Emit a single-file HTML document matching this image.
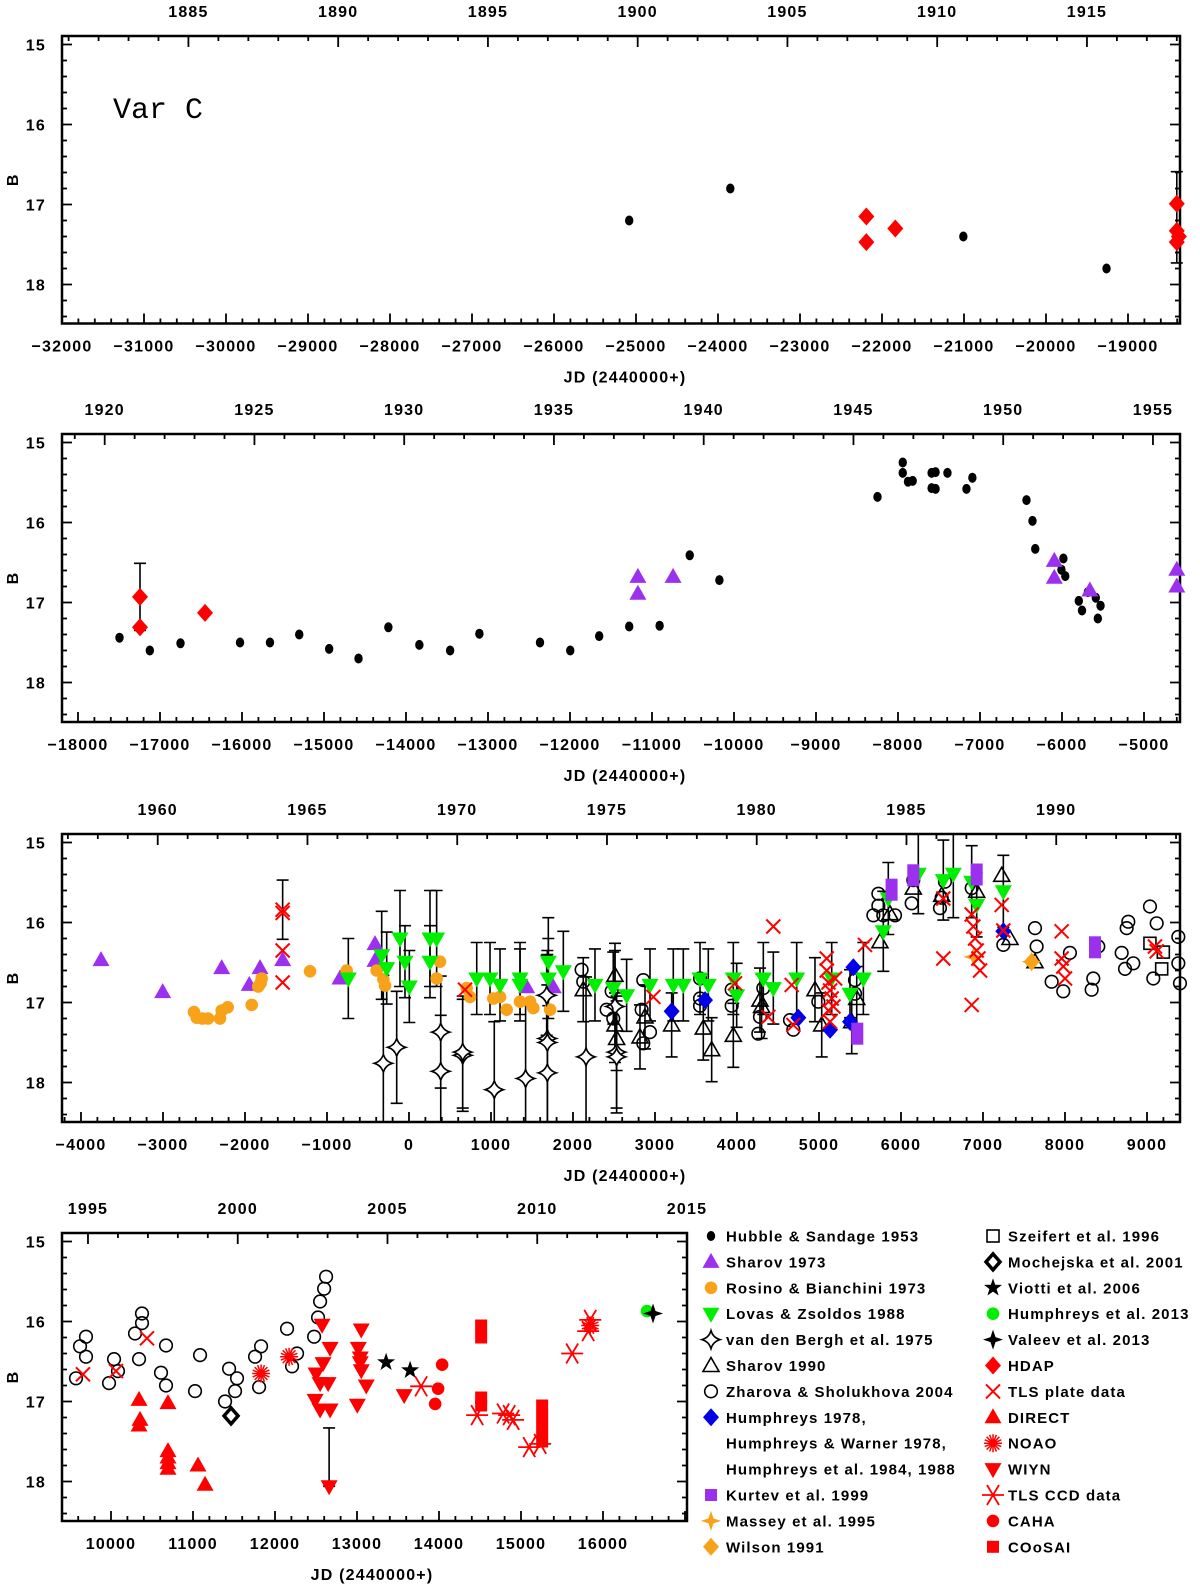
<!DOCTYPE html>
<html><head><meta charset="utf-8"><title>Var C light curve</title>
<style>
html,body{margin:0;padding:0;background:#fff;}
svg{display:block;}
text{font-family:"Liberation Sans",sans-serif;font-weight:bold;fill:#000;}
.tk{font-size:16px;letter-spacing:1.2px;}
.lg{font-size:15px;letter-spacing:1.1px;}
</style></head>
<body>
<svg id="chart" xmlns="http://www.w3.org/2000/svg" width="1200" height="1588" viewBox="0 0 1200 1588">
<rect width="1200" height="1588" fill="#fff"/>
<text x="113" y="118" style="font-family:'Liberation Mono',monospace;font-weight:normal;font-size:30px;">Var C</text>
</svg>
<script>
// ---------- panel 1 data ----------
const p1_hubble = [[-25083,17.2],[-23850,16.8],[-21008,17.4],[-19262,17.8]];
const p1_hdap = [[-22191,17.15],[-22191,17.47],[-21838,17.3],[-18405,16.99],[-18405,17.33],[-18405,17.47],[-18380,17.4]];
const p1_hdapErr = [[-18405,17.16,0.57]];
// ---------- panel 2 data ----------
const p2_hubble = [[-17494,17.44],[-17124,17.6],[-16750,17.51],[-16024,17.5],[-15659,17.5],[-15302,17.4],[-14937,17.58],[-14579,17.7],[-14215,17.31],[-13837,17.53],[-13462,17.6],[-13105,17.39],[-12366,17.5],[-11997,17.6],[-11644,17.42],[-11278,17.3],[-10907,17.29],[-10540,16.41],[-10178,16.72],[-8250,15.68],[-7942,15.25],[-7942,15.38],[-7878,15.49],[-7821,15.48],[-7590,15.38],[-7542,15.37],[-7590,15.57],[-7542,15.58],[-7397,15.38],[-7165,15.58],[-7093,15.44],[-6433,15.72],[-6360,15.98],[-6326,16.33],[-5983,16.45],[-6007,16.59],[-5960,16.67],[-5795,16.98],[-5756,17.1],[-5684,16.87],[-5588,16.94],[-5530,17.04],[-5563,17.2]];
const p2_sharov73 = [[-11172,16.68],[-11172,16.89],[-10743,16.68],[-6094,16.48],[-6094,16.69],[-5660,16.85],[-4600,16.59],[-4600,16.8]];
const p2_hdap = [[-17244,16.93],[-17244,17.31],[-16451,17.13]];
const p2_hdapErr = [[-17244,16.93,0.42]];
// ---------- panel 3 data ----------
const p3_sharov73 = [[-3756,16.47],[-3004,16.87],[-2284,16.57],[-1948,16.78],[-1817,16.57],[-1541,16.47],[-842,16.7],[-415,16.27],[-415,16.48],[1435,16.81],[1760,16.81]];
const p3_rosino = [[-2622,17.12],[-2589,17.19],[-2520,17.2],[-2451,17.2],[-2305,17.2],[-2284,17.1],[-2211,17.06],[-1918,17.03],[-1838,16.8],[-1797,16.7],[-1810,16.76],[-1207,16.61],[-760,16.6],[-394,16.6],[-313,16.71],[-292,16.79],[378,16.49],[337,16.7],[703,16.82],[744,16.93],[1028,16.95],[1110,16.93],[1191,17.09],[1354,16.99],[1476,16.99],[1516,17.07],[1720,17.09]];
const p3_lovas = [[-740,16.7],[-333,16.41],[-272,16.57],[-110,16.2],[-49,16.49],[4,16.8],[256,16.2],[337,16.2],[256,16.49],[826,16.7],[988,16.7],[1110,16.78],[1354,16.78],[1354,16.7],[1699,16.49],[1699,16.7],[1882,16.61],[2268,16.78],[2491,16.82],[2654,16.91],[2939,16.78],[3223,16.78],[3345,16.78],[3549,16.7],[3650,16.78],[3955,16.7],[3996,16.91],[4321,16.7],[4443,16.82],[4728,16.7],[5155,16.7],[5541,16.7],[5378,16.89],[5784,16.11],[5845,15.7],[6211,15.39],[6516,15.47],[6638,15.39],[6862,15.49],[6923,15.78],[7248,15.61]];
const p3_lovasErr = [0.5,0.55,0.45,0.6,0.45,0.45,0.6,0.6,0.45,0.45,0.45,0.45,0.45,0.45,0.55,0.5,0.5,0.45,0.45,0.45,0.45,0.45,0.45,0.45,0.45,0.45,0.4,0.45,0.45,0.45,0.45,0.45,0.3,0.5,0.45,0.5,0.5,0.55,0.45,0.4,0.45];
const p3_vdb = [[-313,17.76],[-150,17.56],[387,17.37],[387,17.86],[655,17.66],[655,17.62],[1040,18.09],[1422,17.95],[1687,17.45],[1687,17.5],[1687,17.88],[1679,16.91],[2159,17.68],[2532,17.62],[2532,17.68],[2512,17.05]];
const p3_vdbErr = [1.1,0.7,0.7,0.7,0.7,0.7,0.85,1.0,1.1,1.1,1.1,0.5,1.0,0.7,0.7,0.7];
const p3_sharov90 = [[2125,16.84],[2512,16.66],[2512,17.28],[2532,17.45],[2878,17.18],[2817,17.43],[3203,17.28],[3589,17.32],[3691,17.59],[3955,17.41],[4280,16.97],[4300,17.05],[4951,16.84],[5033,17.28],[5399,17.24],[5460,16.95],[5743,16.24],[5865,15.89],[6150,15.57],[6496,15.66],[6923,15.61],[7228,15.41],[7329,16.2],[7634,16.49]];
const p3_zharova = [[2105,16.59],[2125,16.74],[2410,17.09],[2471,16.86],[2491,17.2],[2857,16.72],[2837,17.09],[2857,17.51],[2939,17.37],[3549,16.7],[3549,16.95],[3549,17.04],[3935,16.84],[3935,17.04],[4260,17.39],[4280,17.18],[4321,16.82],[4646,17.22],[4687,17.34],[4992,16.99],[5439,16.72],[5439,16.89],[5663,15.91],[5724,15.64],[5724,15.79],[5784,15.91],[5927,15.91],[6130,15.76],[6150,15.47],[6475,15.82],[6536,15.49],[6496,15.69],[6862,15.57],[7248,16.28],[7634,16.07],[7654,16.3],[7837,16.74],[7979,16.86],[8060,16.38],[8345,16.7],[8325,16.84],[8406,16.3],[8691,16.38],[8732,16.58],[8833,16.51],[8772,15.99],[8752,16.07],[9036,15.8],[9118,16.01],[9077,16.7],[9382,16.18],[9382,16.51],[9402,16.76]];
const p3_humphreys = [[3203,17.11],[3610,16.97],[4748,17.19],[5135,17.34],[5419,16.56],[5378,17.24],[7248,16.11]];
const p3_kurtev = [[5467,17.39],[5885,15.59],[6150,15.41],[6923,15.4],[8366,16.31]];
const p3_massey = [[6883,16.43],[7593,16.49]];
const p3_wilson = [[7593,16.49]];
const p3_szeifert = [[9036,16.26],[9199,16.37],[9179,16.58]];
const p3_tls = [[-1541,15.84],[-1541,15.88],[-1541,16.35],[-1541,16.75],[683,16.84],[2980,16.93],[3976,16.76],[4443,16.05],[4382,17.18],[4667,16.78],[4687,17.28],[5094,16.45],[5094,16.6],[5115,16.75],[5135,16.85],[5155,16.95],[5176,17.05],[5115,17.1],[5135,17.24],[5196,16.7],[5561,16.28],[6516,15.7],[6516,16.45],[6862,17.03],[6862,15.9],[6882,16.05],[6903,16.2],[6923,16.35],[6944,16.45],[6964,16.6],[7228,15.78],[7248,16.1],[7959,16.11],[7959,16.45],[7979,16.55],[8000,16.7],[9097,16.3],[9118,16.36]];
const p3_tlsErr = [[-1541,15.84,0.37]];
// ---------- panel 4 data ----------
const p4_zharova = [[9573,16.71],[9622,16.31],[9695,16.19],[9695,16.44],[9976,16.77],[10037,16.47],[10085,16.62],[10293,16.15],[10342,16.47],[10378,15.9],[10378,16.02],[10671,16.3],[10610,16.64],[10671,16.8],[11025,16.87],[11086,16.42],[11391,17.0],[11440,16.59],[11513,16.87],[11537,16.71],[11757,16.44],[11830,16.31],[11806,16.82],[12147,16.09],[12208,16.56],[12269,16.4],[12477,16.19],[12525,15.95],[12550,15.75],[12599,15.59],[12623,15.44]];
const p4_mochejska = [[11464,17.18]];
const p4_tls = [[9658,16.66],[10061,16.62],[10439,16.21]];
const p4_noao = [[11830,16.65],[12172,16.44],[15844,16.05]];
const p4_direct = [[10342,16.98],[10354,17.23],[10342,17.3],[10695,17.02],[10695,17.62],[10695,17.7],[10695,17.77],[10695,17.84],[11061,17.8],[11147,18.04]];
const p4_wiyn = [[12660,18.06],[12574,16.04],[12672,16.33],[12586,16.52],[12501,16.65],[12550,16.77],[12648,16.77],[12489,16.98],[12550,17.1],[12672,17.1],[13052,16.1],[13016,16.33],[13040,16.51],[13052,16.61],[13113,16.8],[13004,17.04],[13040,16.45],[13575,16.92]];
const p4_wiynErr = [[12660,18.06,0.73]];
const p4_viotti = [[13355,16.51],[13648,16.61]];
const p4_tlsccd = [[13782,16.81],[14465,17.17],[14782,17.15],[14856,17.17],[14904,17.23],[15100,17.57],[15234,17.53],[15624,16.4],[15819,16.12],[15844,15.98]];
const p4_caha = [[14038,16.54],[13989,16.84],[13953,17.03]];
const p4_coosai = [[14514,16.05],[14514,16.2],[14514,16.95],[14514,17.05],[15258,17.05],[15258,17.2],[15258,17.35],[15258,17.5]];
const p4_humph13 = [[16537,15.87]];
const p4_valeev = [[16610,15.9]];
// ---------- axis config ----------
const magTicks = [15,16,17,18];

const NS = "http://www.w3.org/2000/svg";
const svg = document.getElementById('chart');
const panels = [
 {L:62,R:1180,T:36,B:323.5,j0:-32000,jx:62},
 {L:62,R:1180,T:434,B:722,j0:-18000,jx:78},
 {L:62,R:1180,T:834,B:1122,j0:-4000,jx:81},
 {L:62,R:687,T:1233,B:1521,j0:10000,jx:111}
];
function X(p,jd){return p.jx+(jd-p.j0)*0.082;}
function Y(p,m){return p.T+8.5+(m-15)*80;}
function jdOf(p,x){return p.j0+(x-p.jx)/0.082;}
function add(tag,attrs,parent){const e=document.createElementNS(NS,tag);for(const k in attrs)e.setAttribute(k,attrs[k]);(parent||svg).appendChild(e);return e;}

const RED='#ff0000',PUR='#9b30ee',ORA='#f8a21a',GRN='#00ee00',BLU='#0000e6';
function shape(t,x,y,c){
 switch(t){
 case 'dot': return `<ellipse cx="${x}" cy="${y}" rx="4.2" ry="5" fill="#000"/>`;
 case 'fdot': return `<circle cx="${x}" cy="${y}" r="6.3" fill="${c}"/>`;
 case 'tup': return `<polygon points="${x},${y-9} ${x+8.5},${y+6} ${x-8.5},${y+6}" fill="${c}"/>`;
 case 'tdn': return `<polygon points="${x},${y+9} ${x+8.5},${y-6} ${x-8.5},${y-6}" fill="${c}"/>`;
 case 'dia': return `<polygon points="${x},${y-9} ${x+8},${y} ${x},${y+9} ${x-8},${y}" fill="${c}"/>`;
 case 'odia': return `<polygon points="${x},${y-8} ${x+7},${y} ${x},${y+8} ${x-7},${y}" fill="#fff" stroke="#000" stroke-width="3.5"/>`;
 case 'otri': return `<polygon points="${x},${y-8} ${x+8},${y+6} ${x-8},${y+6}" fill="none" stroke="#000" stroke-width="1.6"/>`;
 case 'ocirc': return `<circle cx="${x}" cy="${y}" r="6.3" fill="none" stroke="#000" stroke-width="1.6"/>`;
 case 'osq': return `<rect x="${x-6}" y="${y-6}" width="12" height="12" fill="none" stroke="#000" stroke-width="1.6"/>`;
 case 'vdb': return `<path d="M${x},${y-9} Q${x+2},${y-2} ${x+9},${y} Q${x+2},${y+2} ${x},${y+9} Q${x-2},${y+2} ${x-9},${y} Q${x-2},${y-2} ${x},${y-9}Z" fill="#fff" stroke="#000" stroke-width="1.6"/>`;
 case 'sq': return `<rect x="${x-6}" y="${y-6}" width="12" height="12" fill="${c}"/>`;
 case 'tallsq': return `<rect x="${x-6}" y="${y-11}" width="12" height="22" fill="${c}"/>`;
 case 'star4': return `<path d="M${x},${y-10} L${x+2.5},${y-2.5} L${x+10},${y} L${x+2.5},${y+2.5} L${x},${y+10} L${x-2.5},${y+2.5} L${x-10},${y} L${x-2.5},${y-2.5}Z" fill="${c}"/>`;
 case 'star5': {let p=[];for(let i=0;i<10;i++){const r=i%2?3.8:9.5,a=-Math.PI/2+i*Math.PI/5;p.push((x+r*Math.cos(a)).toFixed(1)+','+(y+r*Math.sin(a)).toFixed(1));}return `<polygon points="${p.join(' ')}" fill="#000"/>`;}
 case 'x': return `<path d="M${x-7},${y-7}L${x+7},${y+7}M${x+7},${y-7}L${x-7},${y+7}" stroke="${RED}" stroke-width="2"/>`;
 case 'noao': {let d='';for(let i=0;i<8;i++){const a=i*Math.PI/8;d+=`M${(x-9*Math.cos(a)).toFixed(1)},${(y-9*Math.sin(a)).toFixed(1)}L${(x+9*Math.cos(a)).toFixed(1)},${(y+9*Math.sin(a)).toFixed(1)}`;}return `<path d="${d}" stroke="${RED}" stroke-width="1.5"/>`;}
 case 'ccd': return `<path d="M${x-11},${y}L${x+11},${y}M${x-6},${y-10}L${x+6},${y+10}M${x+6},${y-10}L${x-6},${y+10}" stroke="${RED}" stroke-width="1.8"/>`;
 }
 return '';
}
function marker(p,t,jd,m,c,name){
 const g=document.createElementNS(NS,'g');
 
 
 g.innerHTML=shape(t,X(p,jd),Y(p,m),c);
 svg.appendChild(g);
}
function series(p,arr,t,c,name){arr.forEach(d=>marker(p,t,d[0],d[1],c,name));}
function errbar(p,jd,m,e,name){
 const x=X(p,jd),y1=Math.max(p.T,Y(p,m-e)),y2=Math.min(p.B,Y(p,m+e));
 const g=document.createElementNS(NS,'path');
 
 
 let d=`M${x},${y1}L${x},${y2}`;
 if(Y(p,m-e)>=p.T)d+=`M${x-6},${y1}L${x+6},${y1}`;
 if(Y(p,m+e)<=p.B)d+=`M${x-6},${y2}L${x+6},${y2}`;
 g.setAttribute('d',d);g.setAttribute('stroke','#000');g.setAttribute('stroke-width','1.6');g.setAttribute('fill','none');
 svg.appendChild(g);
}
function yearJD(yr){return (yr-1968.39)*365.25;}

function axes(p,i){
 const g=add('g',{});
 
 
 add('rect',{x:p.L,y:p.T,width:p.R-p.L,height:p.B-p.T,fill:'none',stroke:'#000','stroke-width':2.5},g);
 let d='';
 const jmin=jdOf(p,p.L),jmax=jdOf(p,p.R);
 for(let j=Math.ceil(jmin/200)*200;j<=jmax;j+=200){const x=X(p,j);if(x<=p.L+1||x>=p.R-1)continue;const len=(j%1000===0)?10:5;d+=`M${x},${p.B}L${x},${p.B-len}`;}
 for(let yr=1880;yr<=2020;yr++){const x=X(p,yearJD(yr));if(x<=p.L+1||x>=p.R-1)continue;const len=(yr%5===0)?11:5;d+=`M${x},${p.T}L${x},${p.T+len}`;}
 for(let k=0;k<=17;k++){const m=15+k*0.2;const y=Y(p,m);if(y>=p.B)continue;const len=(k%5===0)?10:5;d+=`M${p.L},${y}L${p.L+len},${y}M${p.R},${y}L${p.R-len},${y}`;}
 add('path',{d:d,stroke:'#000','stroke-width':1.8,fill:'none'},g);
 for(let j=Math.ceil(jmin/1000)*1000;j<=jmax;j+=1000){const x=X(p,j);if(x<p.L-1||x>p.R-30)continue;
  const t=add('text',{x:x,y:p.B+28,'text-anchor':'middle',class:'tk'},g);
  
  
  t.textContent=(j<0?'\u2212':'')+Math.abs(j);}
 for(let yr=1880;yr<=2020;yr+=5){const x=X(p,yearJD(yr));if(x<p.L+10||x>p.R+3)continue;
  const t=add('text',{x:x,y:p.T-19,'text-anchor':'middle',class:'tk'},g);
  
  
  t.textContent=yr;}
 magTicks.forEach(m=>{const t=add('text',{x:46,y:Y(p,m)+6,'text-anchor':'end',class:'tk'},g);
  
  
  t.textContent=m;});
 const yc=(p.T+p.B)/2;
 const b=add('text',{x:18,y:yc,'text-anchor':'middle',class:'tk',transform:`rotate(-90 18 ${yc})`},g);
 
 
 b.textContent='B';
 const cx=(i===3)?372:625;
 const tt=add('text',{x:cx,y:p.B+59,'text-anchor':'middle',class:'tk'},g);
 
 
 tt.textContent='JD (2440000+)';
}
panels.forEach((p,i)=>axes(p,i));

const [P1,P2,P3,P4]=panels;
// panel 1
p1_hdapErr.forEach(e=>errbar(P1,e[0],e[1],e[2],'hdap-error-bar'));
series(P1,p1_hubble,'dot','#000','hubble-sandage-point');
series(P1,p1_hdap,'dia',RED,'hdap-point');
// panel 2
p2_hdapErr.forEach(e=>errbar(P2,e[0],e[1],e[2],'hdap-error-bar'));
series(P2,p2_hubble,'dot','#000','hubble-sandage-point');
series(P2,p2_sharov73,'tup',PUR,'sharov-1973-point');
series(P2,p2_hdap,'dia',RED,'hdap-point');
// panel 3
p3_vdb.forEach((d,k)=>errbar(P3,d[0],d[1],p3_vdbErr[k],'vdb-error-bar'));
p3_lovas.forEach((d,k)=>errbar(P3,d[0],d[1],p3_lovasErr[k],'lovas-error-bar'));
p3_sharov90.forEach(d=>{if(d[0]<5600)errbar(P3,d[0],d[1],0.4,'sharov-1990-error-bar');});
p3_tlsErr.forEach(e=>errbar(P3,e[0],e[1],e[2],'tls-error-bar'));
series(P3,p3_sharov73,'tup',PUR,'sharov-1973-point');
series(P3,p3_rosino,'fdot',ORA,'rosino-point');
series(P3,p3_vdb,'vdb','#000','van-den-bergh-point');
series(P3,p3_sharov90,'otri','#000','sharov-1990-point');
series(P3,p3_zharova,'ocirc','#000','zharova-point');
series(P3,p3_lovas,'tdn',GRN,'lovas-point');
series(P3,p3_humphreys,'dia',BLU,'humphreys-point');
series(P3,p3_kurtev,'tallsq',PUR,'kurtev-point');
series(P3,p3_wilson,'dia',ORA,'wilson-point');
series(P3,p3_massey,'star4',ORA,'massey-point');
series(P3,p3_szeifert,'osq','#000','szeifert-point');
series(P3,p3_tls,'x',RED,'tls-plate-point');
// panel 4
p4_wiynErr.forEach(e=>errbar(P4,e[0],e[1]-0.365,0.365,'wiyn-error-bar'));
series(P4,p4_zharova,'ocirc','#000','zharova-point');
series(P4,p4_mochejska,'odia','#000','mochejska-point');
series(P4,p4_tls,'x',RED,'tls-plate-point');
series(P4,p4_noao,'noao',RED,'noao-point');
series(P4,p4_direct,'tup',RED,'direct-point');
series(P4,p4_wiyn,'tdn',RED,'wiyn-point');
series(P4,p4_viotti,'star5','#000','viotti-point');
series(P4,p4_tlsccd,'ccd',RED,'tls-ccd-point');
series(P4,p4_caha,'fdot',RED,'caha-point');
series(P4,p4_coosai,'sq',RED,'coosai-point');
series(P4,p4_humph13,'fdot',GRN,'humphreys-2013-point');
series(P4,p4_valeev,'star4','#000','valeev-point');

// legend
const leg1=[['dot','#000','Hubble & Sandage 1953'],['tup',PUR,'Sharov 1973'],['fdot',ORA,'Rosino & Bianchini 1973'],['tdn',GRN,'Lovas & Zsoldos 1988'],['vdb','#000','van den Bergh et al. 1975'],['otri','#000','Sharov 1990'],['ocirc','#000','Zharova & Sholukhova 2004'],['dia',BLU,'Humphreys 1978,'],[null,null,'Humphreys & Warner 1978,'],[null,null,'Humphreys et al. 1984, 1988'],['tallsq',PUR,'Kurtev et al. 1999'],['star4',ORA,'Massey et al. 1995'],['dia',ORA,'Wilson 1991']];
const leg2=[['osq','#000','Szeifert et al. 1996'],['odia','#000','Mochejska et al. 2001'],['star5','#000','Viotti et al. 2006'],['fdot',GRN,'Humphreys et al. 2013'],['star4','#000','Valeev et al. 2013'],['dia',RED,'HDAP'],['x',RED,'TLS plate data'],['tup',RED,'DIRECT'],['noao',RED,'NOAO'],['tdn',RED,'WIYN'],['ccd',RED,'TLS CCD data'],['fdot',RED,'CAHA'],['sq',RED,'COoSAI']];
function legend(list,sx,tx){
 list.forEach((e,k)=>{
  const y=1236+k*25.9;
  const g=add('g',{});
  
  
  let h='';
  if(e[0]){let t=e[0];if(t==='tallsq')t='sq';h+=shape(t,sx,y,e[1]);}
  g.innerHTML=h;
  const tt=add('text',{x:tx,y:y+5.5,class:'lg'},g);
  tt.textContent=e[2];
 });
}
legend(leg1,711,726);
legend(leg2,993,1008);
</script>
</body></html>
